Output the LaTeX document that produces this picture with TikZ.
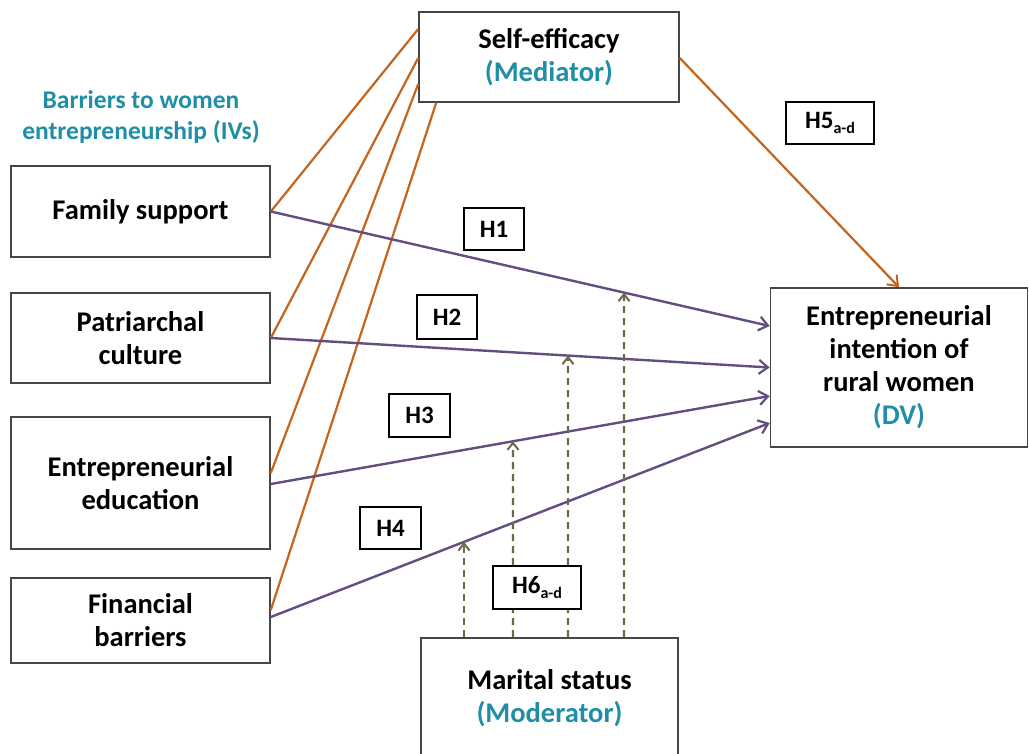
\documentclass[tikz,border=0pt]{standalone}
\usepackage{fontspec}
\setmainfont{Carlito}
\usetikzlibrary{arrows.meta}
\definecolor{orng}{RGB}{197,100,28}
\definecolor{purp}{RGB}{100,78,128}
\definecolor{oliv}{RGB}{110,104,72}
\definecolor{tealc}{RGB}{32,142,166}
\definecolor{boxc}{RGB}{70,70,70}
\begin{document}
\begin{tikzpicture}[x=1pt,y=-1pt,
  box/.style={draw=boxc, line width=1.6pt, fill=white, align=center,
    font=\bfseries\fontsize{28.5}{33}\selectfont, inner sep=0pt},
  hbox/.style={draw=black, line width=2.6pt, fill=white, align=center,
    font=\bfseries\fontsize{25}{26}\selectfont, inner sep=0pt},
  oline/.style={draw=orng, line width=2.2pt},
  pline/.style={draw=purp, line width=2.4pt, -{Straight Barb[length=9pt,width=14pt,line width=2.2pt]}},
  dline/.style={draw=oliv, line width=2.4pt, dash pattern=on 7pt off 5pt, -{Straight Barb[length=7pt,width=11pt,line width=2pt]}}
]
\useasboundingbox (0,0) rectangle (1029,753);
\fill[white] (0,0) rectangle (1029,753);

% teal heading
\node[align=center, text=tealc, font=\bfseries\fontsize{25.5}{31}\selectfont] (iv) at (141,117)
  {Barriers to women\\entrepreneurship (IVs)};

% boxes
\node[box, minimum width=259pt, minimum height=91pt] (fs) at (140.5,211.5) {Family support};
\node[box, minimum width=259pt, minimum height=90pt] (pc) at (140.5,338) {Patriarchal\\culture};
\node[box, minimum width=259pt, minimum height=132pt] (ee) at (140.5,483) {Entrepreneurial\\education};
\node[box, minimum width=259pt, minimum height=85pt] (fb) at (140.5,620.5) {Financial\\barriers};
\node[box, minimum width=260pt, minimum height=90pt] (se) at (549,57) {Self-efficacy\\\textcolor{tealc}{(Mediator)}};
\node[box, minimum width=257pt, minimum height=159pt] (dv) at (899,367.5) {Entrepreneurial\\intention of\\rural women\\\textcolor{tealc}{(DV)}};
\node[box, minimum width=257pt, minimum height=120pt] (ms) at (549.5,698) {Marital status\\\textcolor{tealc}{(Moderator)}};

% coordinates
\coordinate (s1) at (fs.east);
\coordinate (s2) at (pc.east);
\coordinate (s3) at ([yshift=-1pt]ee.east);
\coordinate (s4) at ([yshift=3.5pt]fb.east);
\coordinate (o1) at (fs.east);
\coordinate (o2) at (pc.east);
\coordinate (o3) at ([yshift=10pt]ee.east);
\coordinate (o4) at ([yshift=10.5pt]fb.east);
\coordinate (e1) at ([yshift=28pt]se.west);
\coordinate (e2) at ([yshift=-1pt]se.west);
\coordinate (e3) at ([yshift=-27pt]se.west);
\coordinate (e4) at ([xshift=18pt]se.south west);
\coordinate (t1) at ([yshift=41.5pt]dv.west);
\coordinate (t2) at ([yshift=0pt]dv.west);
\coordinate (t3) at ([yshift=-28.5pt]dv.west);
\coordinate (t4) at ([yshift=-55.5pt]dv.west);
\coordinate (m1) at ([xshift=74.5pt]ms.north);
\coordinate (m2) at ([xshift=18.5pt]ms.north);
\coordinate (m3) at ([xshift=-36.5pt]ms.north);
\coordinate (m4) at ([xshift=-85.5pt]ms.north);
\coordinate (m1u) at ([yshift=400pt]m1);
\coordinate (m2u) at ([yshift=400pt]m2);
\coordinate (m3u) at ([yshift=400pt]m3);
\coordinate (m4u) at ([yshift=400pt]m4);
\coordinate (sr) at ([yshift=-1pt]se.east);
\coordinate (dt) at (dv.north);

% orange lines
\draw[oline] (e1) -- (o1);
\draw[oline] (e2) -- (o2);
\draw[oline] (e3) -- (o3);
\draw[oline] (e4) -- (o4);
\draw[oline, -{Straight Barb[length=9pt,width=14pt,line width=2pt]}] (sr) -- (dt);

% purple arrows
\draw[pline] (s1) -- (t1);
\draw[pline] (s2) -- (t2);
\draw[pline] (s3) -- (t3);
\draw[pline] (s4) -- (t4);

% dashed moderator arrows
\draw[dline] (m1) -- (intersection of s1--t1 and m1--m1u);
\draw[dline] (m2) -- (intersection of s2--t2 and m2--m2u);
\draw[dline] (m3) -- (intersection of s3--t3 and m3--m3u);
\draw[dline] (m4) -- (intersection of s4--t4 and m4--m4u);

% hypothesis labels
\node[hbox, minimum width=60pt, minimum height=42pt] (h1) at (494,229) {H1};
\node[hbox, minimum width=60pt, minimum height=44pt] (h2) at (447,317) {H2};
\node[hbox, minimum width=61pt, minimum height=43pt] (h3) at (419.5,415.5) {H3};
\node[hbox, minimum width=61pt, minimum height=42pt] (h4) at (390.5,528) {H4};
\node[hbox, minimum width=88pt, minimum height=42pt] (h5) at (830,123) {H5\raisebox{-5pt}{\fontsize{16}{16}\selectfont a-d}};
\node[hbox, minimum width=88pt, minimum height=43pt] (h6) at (537,587.5) {H6\raisebox{-5pt}{\fontsize{16}{16}\selectfont a-d}};
\end{tikzpicture}
\end{document}
